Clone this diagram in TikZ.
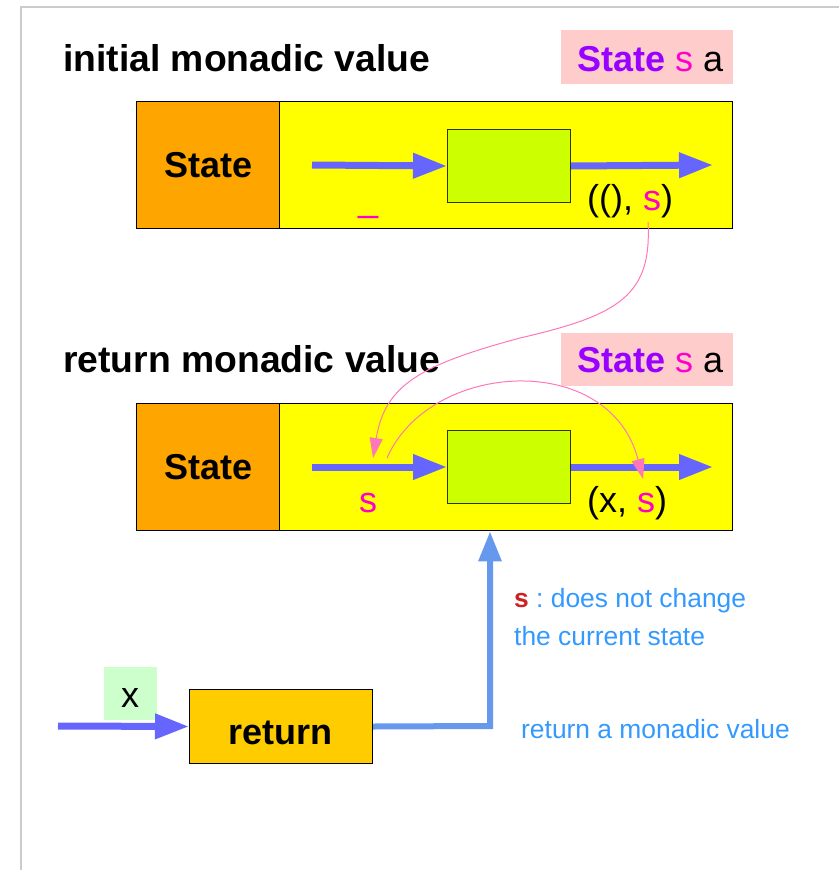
\documentclass[tikz,border=0pt]{standalone}
\usepackage{fontspec}
\setmainfont{Liberation Sans}
\usetikzlibrary{arrows.meta}
\frenchspacing
\definecolor{framec}{HTML}{CCCCCC}
\definecolor{orangec}{HTML}{FFA500}
\definecolor{yellowc}{HTML}{FFFF00}
\definecolor{greenc}{HTML}{CCFF00}
\definecolor{gborder}{HTML}{333300}
\definecolor{pinkc}{HTML}{FFCCCC}
\definecolor{purp}{HTML}{9900FF}
\definecolor{mag}{HTML}{FF00CC}
\definecolor{flowblue}{HTML}{6666FF}
\definecolor{vblue}{HTML}{6699EE}
\definecolor{linkpink}{HTML}{FF77BB}
\definecolor{tblue}{HTML}{3399FF}
\definecolor{sred}{HTML}{CC2222}
\definecolor{retc}{HTML}{FFCC00}
\definecolor{xgreen}{HTML}{CCFFCC}
\begin{document}
\begin{tikzpicture}[x=1pt,y=-1pt,
  big/.style={font=\fontsize{36}{40}\selectfont},
  bigb/.style={font=\fontsize{36}{40}\selectfont\bfseries},
  ttl/.style={font=\fontsize{37.3}{41}\selectfont\bfseries},
  med/.style={font=\fontsize{26.4}{30}\selectfont},
  txt/.style={inner sep=0pt, anchor=base west},
  ctxt/.style={inner sep=0pt, anchor=base},
  panel/.style={draw=black, line width=1.3pt, anchor=north west, inner sep=0pt},
  plain/.style={anchor=north west, inner sep=0pt},
  funbox/.style={draw=gborder, fill=greenc, line width=1pt, anchor=north west, inner sep=0pt, minimum width=123pt, minimum height=73pt},
  flow/.style={draw=flowblue, line width=7pt, -{Triangle[length=34pt,width=24pt]}},
  vflow/.style={draw=vblue, line width=6pt, -{Triangle[length=30pt,width=22pt]}},
  link/.style={draw=linkpink, line width=1pt, -{Triangle[length=20pt,width=13pt]}}
]
\useasboundingbox (0,0) rectangle (839,870);
% frame
\draw[framec, line width=1.5pt] (21,870) -- (21,7) -- (839,7);

% ---------- initial monadic value ----------
\node[txt, ttl] (title1) at (63,71) {initial monadic value};
\node[plain, fill=pinkc, minimum width=172pt, minimum height=54pt] (tb1) at (561,30) {};
\node[txt, big] (type1) at (577,71) {\textcolor{purp}{\bfseries State} \textcolor{mag}{s} a};

\node[panel, fill=yellowc, minimum width=596pt, minimum height=127pt] (box1) at (136,101) {};
\node[panel, fill=orangec, minimum width=143pt, minimum height=127pt, bigb] (st1) at (136,101) {State};
\node[funbox] (g1) at (447,129) {};
\coordinate (a1) at (312,165);
\coordinate (b1) at (713,165);
\draw[flow] (a1) -- (g1.west);
\draw[flow] (g1.east) -- (b1);
\node[txt, big] (pair1) at (587,210) {((), \textcolor{mag}{s})};
\node[txt, big, text=mag] (us1) at (358,211) {\_};

% ---------- return monadic value ----------
\node[txt, ttl] (title2) at (63,372) {return monadic value};
\node[plain, fill=pinkc, minimum width=172pt, minimum height=53pt] (tb2) at (561,333) {};
\node[txt, big] (type2) at (577,372) {\textcolor{purp}{\bfseries State} \textcolor{mag}{s} a};

\node[panel, fill=yellowc, minimum width=596pt, minimum height=127pt] (box2) at (136,403) {};
\node[panel, fill=orangec, minimum width=143pt, minimum height=127pt, bigb] (st2) at (136,403) {State};
\node[funbox] (g2) at (447,430) {};
\coordinate (a2) at (312,467);
\coordinate (b2) at (713,467);
\draw[flow] (a2) -- (g2.west);
\draw[flow] (g2.east) -- (b2);
\node[txt, big, text=mag] (s2) at (359,512) {s};
\node[txt, big] (pair2) at (587,512) {(x, \textcolor{mag}{s})};

% ---------- return ----------
\node[plain, fill=xgreen, minimum width=53pt, minimum height=53pt] (xb) at (104,667) {};
\node[ctxt, big] (xt) at (130,707) {x};
\node[panel, line width=1pt, fill=retc, minimum width=183pt, minimum height=74pt] (ret) at (189,689) {};
\node[ctxt, bigb] (rett) at (280.5,744) {return};
\coordinate (xa) at (58,726);
\draw[flow] (xa) -- (ret.west);
\coordinate (corner) at (490,726);
\draw[vflow] (ret.east) -- (corner) -- (corner |- box2.south);

\node[txt, med, text=tblue] (n1) at (514,607) {\textcolor{sred}{\bfseries s} : does not change};
\node[txt, med, text=tblue] (n2) at (514,645) {the current state};
\node[txt, med, text=tblue] (n3) at (521,738) {return a monadic value};

% ---------- state links ----------
\coordinate (c1s) at (648,222);
\coordinate (c1m) at (520,338);
\coordinate (c1e) at (373,458);
\draw[link] (c1s) .. controls (652,295) and (620,315) .. (c1m) .. controls (420,365) and (385,385) .. (c1e);
\coordinate (c2s) at (387,458);
\coordinate (c2e) at (643,479);
\draw[link] (c2s) .. controls (430,360) and (610,350) .. (c2e);
\end{tikzpicture}
\end{document}
